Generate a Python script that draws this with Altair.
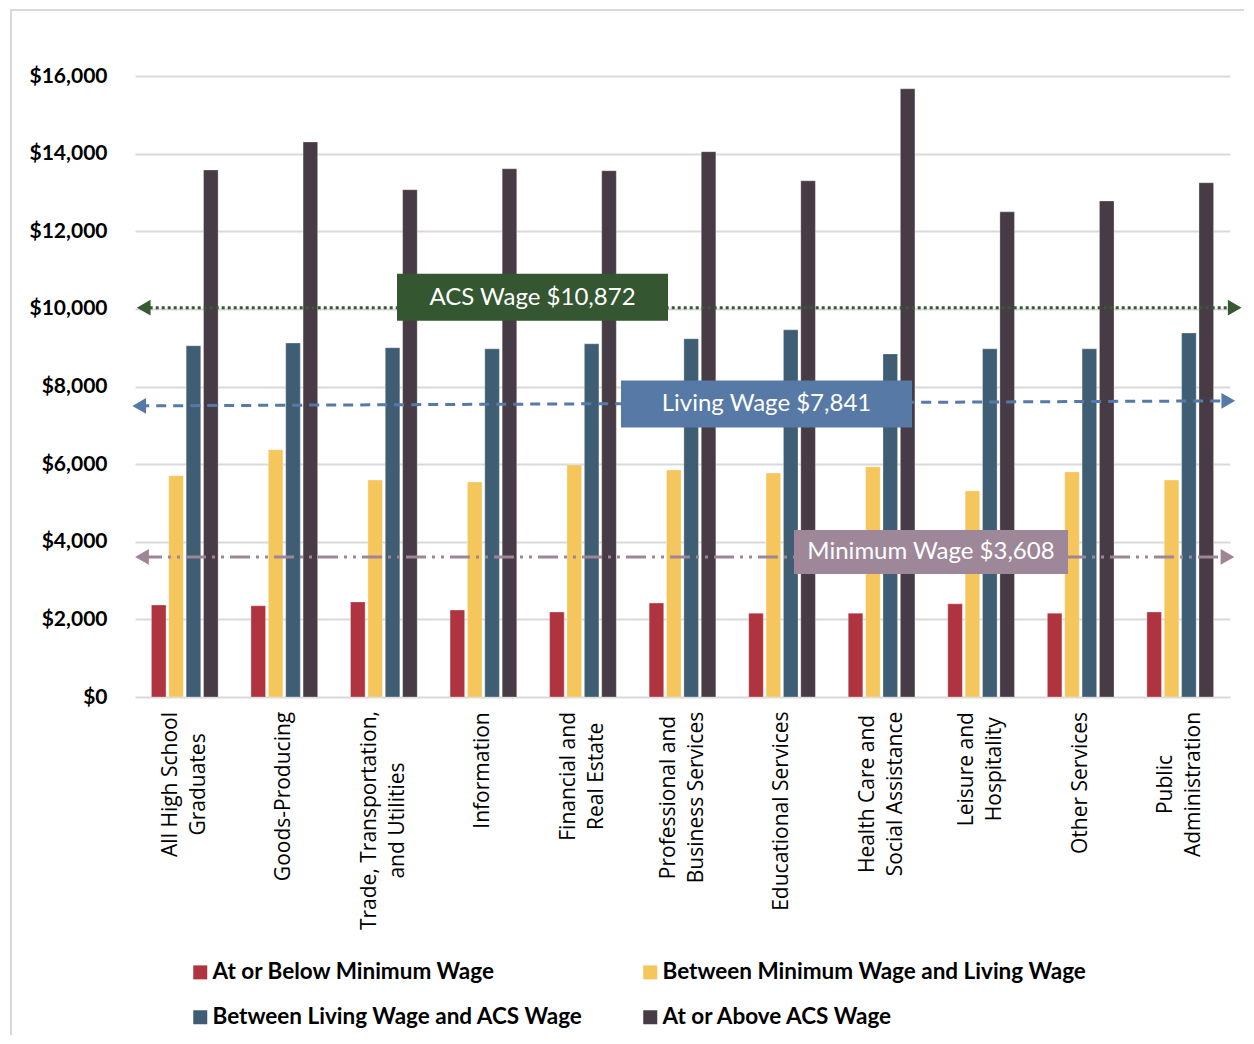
import altair as alt
import pandas as pd

# ---------------- data ----------------
categories = [
    "All High School\nGraduates",
    "Goods-Producing",
    "Trade, Transportation,\nand Utilities",
    "Information",
    "Financial and\nReal Estate",
    "Professional and\nBusiness Services",
    "Educational Services",
    "Health Care and\nSocial Assistance",
    "Leisure and\nHospitality",
    "Other Services",
    "Public\nAdministration",
]
series = [
    "At or Below Minimum Wage",
    "Between Minimum Wage and Living Wage",
    "Between Living Wage and ACS Wage",
    "At or Above ACS Wage",
]
below_min = [2370, 2350, 2450, 2240, 2190, 2420, 2160, 2160, 2400, 2160, 2190]
min_to_living = [5700, 6370, 5590, 5540, 5980, 5850, 5770, 5930, 5310, 5800, 5590]
living_to_acs = [9050, 9120, 9000, 8970, 9100, 9230, 9460, 8840, 8970, 8970, 9380]
above_acs = [13580, 14300, 13070, 13610, 13560, 14050, 13300, 15670, 12500, 12780, 13250]

ref_labels = ["ACS Wage $10,872", "Living Wage $7,841", "Minimum Wage $3,608"]
ref_left = [10030, 7500, 3610]
ref_right = [10030, 7630, 3610]
y_ticks = [0, 2000, 4000, 6000, 8000, 10000, 12000, 14000, 16000]

# ---------------- styling ----------------
W, H = 1095, 621
bar_colors = ["#B0343F", "#F4C65B", "#3F5E73", "#473B46"]
# legend is laid out column by column, so list the colour domain in that order
legend_order = [series[0], series[2], series[1], series[3]]
legend_colors = [bar_colors[0], bar_colors[2], bar_colors[1], bar_colors[3]]

ref_styles = [
    dict(line="#375A32", box="#345631", dash=[3, 3], xl=8.7, xr=1099.7, bx1=262, bx2=533, o1=-34, o2=13, dy=-10),
    dict(line="#5679A8", box="#5679A6", dash=[10, 7], xl=4.2, xr=1093.3, bx1=486, bx2=777, o1=-23, o2=24, dy=1),
    dict(line="#9E8697", box="#9E8798", dash=[20, 6, 3, 6, 3, 6], xl=7, xr=1092.5, bx1=659, bx2=933, o1=-27, o2=17, dy=-5),
]

rows = []
for i, c in enumerate(categories):
    for s, vals in zip(series, [below_min, min_to_living, living_to_acs, above_acs]):
        rows.append({"category": c, "series": s, "value": vals[i]})
df = pd.DataFrame(rows)

refdf = pd.DataFrame({
    "label": ref_labels,
    "left": ref_left,
    "right": ref_right,
    "mid": [(a + b) / 2 for a, b in zip(ref_left, ref_right)],
})

# approximate Open Sans glyph widths (em) to center rotated multi-line labels
_w = {
    'a': .556, 'b': .613, 'c': .476, 'd': .613, 'e': .561, 'f': .339, 'g': .548, 'h': .614,
    'i': .253, 'j': .253, 'k': .525, 'l': .253, 'm': .93, 'n': .614, 'o': .604, 'p': .613,
    'q': .613, 'r': .408, 's': .477, 't': .353, 'u': .614, 'v': .501, 'w': .778, 'x': .524,
    'y': .502, 'z': .462, ' ': .26, ',': .245, '-': .322, 'A': .633, 'B': .648, 'C': .631,
    'E': .549, 'F': .508, 'G': .717, 'H': .734, 'I': .286, 'L': .514, 'O': .778, 'P': .602,
    'R': .625, 'S': .551, 'T': .549, 'U': .727,
}
LBL_FS = 21


def text_w(s):
    return sum(_w.get(ch, .56) for ch in s) * LBL_FS * 0.985


label_top = 637  # pixel offset below the plot top where labels begin
label_df = pd.DataFrame({
    "category": categories,
    "text": categories,
    "nlines": [len(c.split("\n")) for c in categories],
    "ly": [label_top + max(text_w(l) for l in c.split("\n")) / 2 for c in categories],
})

# ---------------- chart ----------------
xenc = alt.X("category:N", sort=categories,
             scale=alt.Scale(paddingInner=0.33, paddingOuter=0.165), axis=None)
yscale = alt.Scale(domain=[0, 16000], nice=False)

frame = alt.Chart(pd.DataFrame({"f": [0]})).mark_rect(
    fillOpacity=0, stroke="#D9D9D9", strokeWidth=2
).encode(x=alt.value(-124), x2=alt.value(W + 200), y=alt.value(-66), y2=alt.value(H + 500))

bars = alt.Chart(df).mark_bar(stroke="white", strokeWidth=0.6, strokeOpacity=0.5).encode(
    x=xenc,
    xOffset=alt.XOffset("series:N", sort=series, scale=alt.Scale(paddingInner=0.16)),
    y=alt.Y("value:Q", scale=yscale,
            axis=alt.Axis(values=y_ticks, format="$,.0f", grid=True, gridColor="#D9D9D9",
                          gridWidth=2, domain=False, ticks=False, labelPadding=28,
                          labelFont="Lato", labelFontWeight="bold", labelFontSize=21,
                          labelColor="#000000", title=None)),
    color=alt.Color("series:N",
                    scale=alt.Scale(domain=legend_order, range=legend_colors),
                    legend=alt.Legend(title=None, orient="none", legendX=54, legendY=885,
                                      columns=2, columnPadding=56, rowPadding=22,
                                      symbolType="square", symbolSize=196, symbolStrokeWidth=0,
                                      labelFont="Lato", labelFontWeight="bold", labelFontSize=22.5,
                                      labelColor="#000000", labelOffset=1, labelLimit=700,
                                      padding=0)),
)

layers = [frame, bars]
for lab, st in zip(ref_labels, ref_styles):
    base = alt.Chart(refdf).transform_filter(alt.datum.label == lab)
    rule = base.mark_rule(color=st["line"], strokeWidth=3, strokeDash=st["dash"]).encode(
        x=alt.value(st["xl"]), x2=alt.value(st["xr"]),
        y=alt.Y("left:Q", scale=yscale), y2="right:Q")
    al = base.mark_point(shape="triangle-left", filled=True, size=250, color=st["line"],
                         opacity=1).encode(x=alt.value(st["xl"]), y=alt.Y("left:Q", scale=yscale))
    ar = base.mark_point(shape="triangle-right", filled=True, size=250, color=st["line"],
                         opacity=1).encode(x=alt.value(st["xr"]), y=alt.Y("right:Q", scale=yscale))
    box = base.mark_rect(color=st["box"], yOffset=st["o1"], y2Offset=st["o2"]).encode(
        x=alt.value(st["bx1"]), x2=alt.value(st["bx2"]),
        y=alt.Y("mid:Q", scale=yscale), y2="mid:Q")
    txt = base.mark_text(color="white", font="Lato", fontSize=24, align="center",
                         baseline="middle", dy=st["dy"]).encode(
        x=alt.value((st["bx1"] + st["bx2"]) / 2), y=alt.Y("mid:Q", scale=yscale), text="label:N")
    layers += [rule, al, ar, box, txt]

for n, shift in [(1, 0), (2, -14)]:
    xl = alt.Chart(label_df).transform_filter(alt.datum.nlines == n).mark_text(
        angle=270, align="center", baseline="middle", lineBreak="\n", font="Open Sans",
        fontSize=LBL_FS, lineHeight=28, color="#000000", dy=shift
    ).encode(x=xenc, y=alt.Y("ly:Q", scale=None), text="text:N")
    layers.append(xl)

chart = alt.layer(*layers).properties(
    width=W, height=H,
    autosize=alt.AutoSizeParams(type="none"),
    padding={"left": 127, "top": 68, "right": 14, "bottom": 338},
    background="white",
).configure_view(stroke=None)

chart.save("out.html", embed_options={"renderer": "svg", "actions": False})
